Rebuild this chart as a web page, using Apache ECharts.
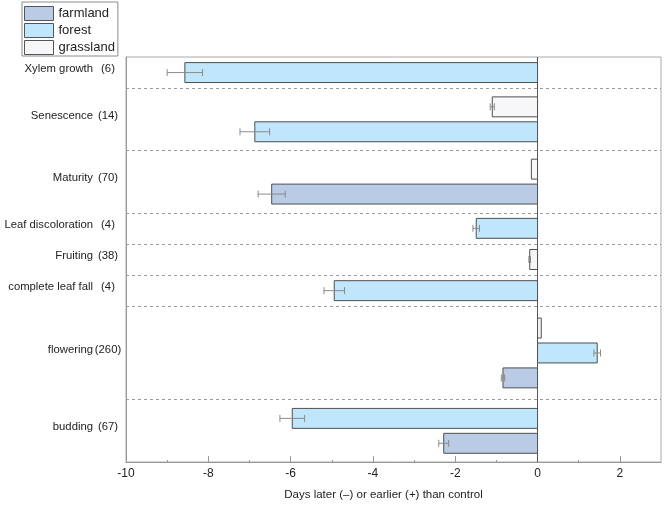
<!DOCTYPE html>
<html>
<head>
<meta charset="utf-8">
<script src="https://cdn.jsdelivr.net/npm/echarts@6/dist/echarts.min.js"></script>
<style>
  html, body { margin: 0; padding: 0; background: #fff; }
  #chart { width: 664px; height: 506px; }
</style>
</head>
<body>
<div id="chart"></div>
<script>
// groups, top to bottom
var groupNames = ['Xylem growth', 'Senescence', 'Maturity', 'Leaf discoloration', 'Fruiting', 'complete leaf fall', 'flowering', 'budding'];
var groupCounts = [6, 14, 70, 4, 38, 4, 260, 67];

// one entry per bar
var barGroup = [0, 1, 1, 2, 2, 3, 4, 5, 6, 6, 6, 7, 7];
var barType = ['forest', 'grassland', 'forest', 'grassland', 'farmland', 'forest', 'grassland', 'forest', 'grassland', 'forest', 'farmland', 'forest', 'farmland'];
var barValue = [-8.57, -1.10, -6.87, -0.15, -6.46, -1.49, -0.19, -4.94, 0.09, 1.45, -0.84, -5.96, -2.28];
var barError = [0.43, 0.05, 0.36, 0, 0.33, 0.08, 0.02, 0.25, 0, 0.08, 0.04, 0.30, 0.12];

var typeNames = ['farmland', 'forest', 'grassland'];
var typeColors = { farmland: '#b9cbe5', forest: '#bfe6fb', grassland: '#f7f7fa' };

var xTicksMajor = [-10, -8, -6, -4, -2, 0, 2];
var xTicksMinor = [-9, -7, -5, -3, -1, 1];

// work out slot positions: each bar takes one slot, bars in a group sit 0.8 slot apart
var nBars = [];
groupNames.forEach(function(g, i) {
	nBars.push(barGroup.filter(function(k) { return k === i; }).length);
});
var groupStart = [], groupCenter = [], cur = 0;
nBars.forEach(function(n) {
	groupStart.push(cur);
	groupCenter.push(cur + n / 2);
	cur += n;
});
var totalSlots = cur;
var boundaries = groupStart.slice(1);

var barPos = [];
var seen = {};
barGroup.forEach(function(g) {
	var i = seen[g] || 0;
	seen[g] = i + 1;
	barPos.push(groupCenter[g] + (i - (nBars[g] - 1) / 2) * 0.8);
});

function renderBar(params, api) {
	var v = api.value(0), y = api.value(1), e = api.value(2);
	var p0 = api.coord([0, y]);
	var p1 = api.coord([v, y]);
	var h = Math.abs(api.size([0, 0.64])[1]);
	var children = [{
		type: 'rect',
		shape: { x: Math.min(p0[0], p1[0]), y: p0[1] - h / 2, width: Math.abs(p1[0] - p0[0]), height: h },
		style: { fill: api.visual('color'), stroke: '#4f4f4f', lineWidth: 1 }
	}];
	if (e > 0) {
		var a = api.coord([v - e, y]), b = api.coord([v + e, y]);
		var cs = { stroke: '#8a8a8a', lineWidth: 1 };
		children.push(
			{ type: 'line', shape: { x1: a[0], y1: a[1], x2: b[0], y2: b[1] }, style: cs },
			{ type: 'line', shape: { x1: a[0], y1: a[1] - 3.5, x2: a[0], y2: a[1] + 3.5 }, style: cs },
			{ type: 'line', shape: { x1: b[0], y1: b[1] - 3.5, x2: b[0], y2: b[1] + 3.5 }, style: cs }
		);
	}
	return { type: 'group', children: children };
}

var series = typeNames.map(function(t) {
	var data = [];
	barType.forEach(function(bt, i) {
		if (bt === t) data.push([barValue[i], barPos[i], barError[i]]);
	});
	return {
		name: t,
		type: 'custom',
		renderItem: renderBar,
		itemStyle: { color: typeColors[t] },
		encode: { x: 0, y: 1 },
		data: data,
		z: 3
	};
});

series.push({
	name: 'lines',
	type: 'line',
	data: [],
	silent: true,
	markLine: {
		silent: true,
		symbol: 'none',
		label: { show: false },
		data: boundaries.map(function(b) {
			return { yAxis: b, lineStyle: { color: '#9a9a9a', type: [3, 3], width: 1 } };
		}).concat([{ xAxis: 0, lineStyle: { color: '#555', type: 'solid', width: 1 } }])
	}
});

var myChart = echarts.init(document.getElementById('chart'));
var option = {
	backgroundColor: '#fff',
	animation: false,
	textStyle: { fontFamily: 'Liberation Sans, Arial, sans-serif' },
	legend: {
		orient: 'vertical',
		left: 22,
		top: 2,
		padding: [4, 3, 1, 2],
		itemWidth: 29,
		itemHeight: 14,
		itemGap: 2,
		icon: 'rect',
		borderColor: '#8a8a8a',
		borderWidth: 1,
		textStyle: { fontSize: 13, color: '#222' },
		data: typeNames.map(function(t) {
			return { name: t, itemStyle: { color: typeColors[t], borderColor: '#555', borderWidth: 1 } };
		})
	},
	grid: {
		left: 126,
		right: 3,
		top: 57,
		bottom: 43,
		show: true,
		borderColor: '#aaa',
		borderWidth: 1
	},
	xAxis: [
		{
			type: 'value',
			min: -10,
			max: 3,
			interval: 1,
			position: 'bottom',
			name: 'Days later (\u2013) or earlier (+) than control',
			nameLocation: 'middle',
			nameGap: 27,
			nameTextStyle: { fontSize: 11.5, color: '#222', padding: [0, 20, 0, 0] },
			axisLine: { onZero: false, lineStyle: { color: '#999' } },
			axisTick: { inside: true, length: 6, lineStyle: { color: '#999' }, customValues: xTicksMajor },
			axisLabel: { fontSize: 12, color: '#222', margin: 6, customValues: xTicksMajor },
			splitLine: { show: false }
		},
		{
			// minor ticks: a second axis moved down onto the bottom edge
			type: 'value',
			min: -10,
			max: 3,
			interval: 1,
			position: 'top',
			offset: -406,
			axisLine: { show: false, onZero: false },
			axisTick: { inside: false, length: 3, lineStyle: { color: '#999' }, customValues: xTicksMinor },
			axisLabel: { show: false, customValues: xTicksMinor },
			splitLine: { show: false }
		}
	],
	yAxis: {
		type: 'value',
		min: 0,
		max: totalSlots,
		inverse: true,
		axisLine: { show: true, onZero: false, lineStyle: { color: '#999' } },
		axisTick: { show: false },
		splitLine: { show: false },
		axisLabel: {
			customValues: groupCenter,
			margin: 3,
			padding: [0, 0, 7, 0],
			formatter: function(val) {
				var i = groupCenter.indexOf(val);
				if (i < 0) return '';
				return '{n|' + groupNames[i] + '}{c|(' + groupCounts[i] + ')}';
			},
			rich: {
				n: { fontSize: 11.3, color: '#222', fontFamily: 'Liberation Sans, Arial, sans-serif' },
				c: { fontSize: 11.3, color: '#222', width: 30, align: 'center', fontFamily: 'Liberation Sans, Arial, sans-serif' }
			}
		}
	},
	series: series
};
myChart.setOption(option);
</script>
</body>
</html>
